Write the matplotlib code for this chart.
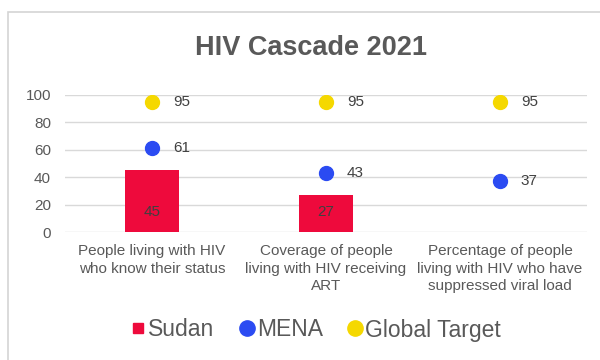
import matplotlib.pyplot as plt
from matplotlib.patches import Rectangle
from matplotlib.lines import Line2D

categories = [
    "People living with HIV\nwho know their status",
    "Coverage of people\nliving with HIV receiving\nART",
    "Percentage of people\nliving with HIV who have\nsuppressed viral load",
]
sudan = [45, 27, None]
mena = [61, 43, 37]
global_target = [95, 95, 95]

RED = "#ee0a3c"
BLUE = "#2b4bf2"
YELLOW = "#f5d800"
TXT = "#595959"

plt.rcParams["font.family"] = ["Liberation Sans", "DejaVu Sans"]

fig = plt.figure(figsize=(6, 3.6), dpi=100)
ax = fig.add_axes([65 / 600, 1 - 232 / 360, 522 / 600, 137 / 360])

# outer chart frame
fig.patches.append(Rectangle((8 / 600, -0.1), 1.2, 1 - 12 / 360 + 0.1,
                             transform=fig.transFigure, fill=False,
                             edgecolor="#d4d4d4", linewidth=1.2))

x = list(range(len(categories)))

bx = [i for i, v in zip(x, sudan) if v is not None]
bv = [v for v in sudan if v is not None]
ax.bar(bx, bv, width=0.315, color=RED, zorder=2)
for i, v in zip(bx, bv):
    ax.text(i, 14.5, str(v), ha="center", va="center", fontsize=11, color="#404040", zorder=3)

ax.scatter(x, mena, s=100, color=BLUE, zorder=3)
ax.scatter(x, global_target, s=100, color=YELLOW, zorder=3)
for i, v in zip(x, mena):
    ax.annotate(str(v), (i, v), xytext=(15, 0), textcoords="offset points",
                ha="left", va="center", fontsize=11, color="#404040")
for i, v in zip(x, global_target):
    ax.annotate(str(v), (i, v), xytext=(15, 0), textcoords="offset points",
                ha="left", va="center", fontsize=11, color="#404040")

ax.set_xlim(-0.5, 2.5)
ax.set_ylim(0, 100)
ax.set_yticks(range(0, 101, 20))
ax.set_xticks(x)
ax.set_xticklabels(categories, fontsize=11, color=TXT, linespacing=1.3)
ax.tick_params(axis="y", labelsize=11, labelcolor=TXT, length=0, pad=10)
ax.tick_params(axis="x", length=0, pad=9)
for s in ax.spines.values():
    s.set_visible(False)
ax.grid(axis="y", color="#d9d9d9", linewidth=1, zorder=0)
ax.set_axisbelow(True)

fig.text(311 / 600, 1 - 48 / 360, "HIV Cascade 2021", ha="center", va="center",
         fontsize=19.5, fontweight="bold", color=TXT)

handles = [
    Line2D([], [], marker="s", linestyle="none", color=RED, markersize=7),
    Line2D([], [], marker="o", linestyle="none", color=BLUE, markersize=11),
    Line2D([], [], marker="o", linestyle="none", color=YELLOW, markersize=11),
]
fig.legend(handles, ["Sudan", "MENA", "Global Target"], loc="center",
           bbox_to_anchor=(316 / 600, 1 - 330 / 360), ncol=3, frameon=False,
           fontsize=16.5, handlelength=0.6, handletextpad=0.15,
           columnspacing=1.1, labelcolor=TXT)

fig.savefig("out.png", dpi=100)
